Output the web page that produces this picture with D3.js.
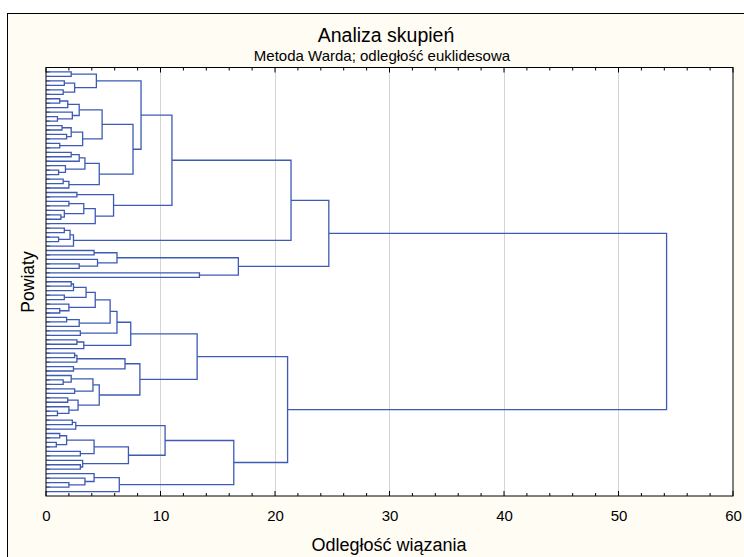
<!DOCTYPE html>
<html><head><meta charset="utf-8">
<script src="https://cdnjs.cloudflare.com/ajax/libs/d3/7.8.5/d3.min.js"></script>
<style>
html,body{margin:0;padding:0;background:#fff;}
svg{display:block;}
</style></head>
<body>
<svg id="chart" width="744" height="557"></svg>
<script>
// ---- Data (leaf ids "Ln"; internal node = [linkage distance, left, right]) ----
const titleText = "Analiza skupień";
const subtitleText = "Metoda Warda; odległość euklidesowa";
const xAxisTitle = "Odległość wiązania";
const yAxisTitle = "Powiaty";
const xTicks = [0, 10, 20, 30, 40, 50, 60];

const clusterA1a = [4.4, [2.2, "L1", "L2"], [2.5, [1.6, "L3", "L4"], [1.5, "L5", "L6"]]];
const clusterB1 = [4.9,
  [2.9, [1.9, [1.2, "L7", "L8"], "L9"], [2.3, "L10", [1.0, "L11", "L12"]]],
  [3.2, [2.2, [1.4, "L13", "L14"], [1.8, "L15", "L16"]], [1.2, "L17", "L18"]]];
const clusterC = [4.65,
  [3.4, [2.9, [2.2, "L19", "L20"], "L21"], [1.7, "L22", [1.1, "L23", "L24"]]],
  [2.0, [1.5, "L25", "L26"], "L27"]];
const clusterA2 = [5.9, [2.7, "L28", "L29"],
  [4.3, [3.3, [2.0, "L30", "L31"], [1.6, "L32", [1.3, "L33", "L34"]]], "L35"]];
const clusterD = [2.4, [2.1, [1.6, "L36", "L37"], [1.1, "L38", "L39"]], "L40"];
const clusterT2 = [16.8,
  [6.2, [4.2, "L41", "L42"], [4.5, "L43", [2.9, "L44", "L45"]]],
  [13.4, "L46", "L47"]];
const clusterE1 = [7.4,
  [6.2,
    [5.6,
      [4.3, [3.5, [2.4, [2.2, "L48", "L49"], "L50"], [1.6, "L51", "L52"]], [2.0, "L53", [1.2, "L54", "L55"]]],
      [2.9, [1.8, "L56", "L57"], "L58"]],
    [3.0, "L59", "L60"]],
  [3.3, [2.7, "L61", "L62"], "L63"]];
const clusterE2 = [8.2,
  [6.9, [2.7, [2.5, "L64", "L65"], "L66"], [2.4, "L67", "L68"]],
  [4.65,
    [4.1, [2.2, "L69", [1.5, "L70", "L71"]], [2.5, "L72", "L73"]],
    [2.8, [1.9, "L74", "L75"], [2.0, "L76", [1.0, "L77", "L78"]]]]];
const clusterG = [10.4,
  [2.6, [2.3, "L79", "L80"], "L81"],
  [7.2,
    [4.2, [1.8, [1.2, "L82", "L83"], [0.9, "L84", "L85"]], [3.0, "L86", "L87"]],
    [3.2, "L88", [3.0, "L89", "L90"]]]];
const clusterH = [6.4, [4.2, "L91", [3.4, "L92", [2.0, "L93", "L94"]]], "L95"];

// upper-level merge heights
const mergeB = 7.6, mergeA1 = 8.3, mergeA = 11.0, mergeT1 = 21.4, mergeTop = 24.7;
const mergeE = 13.2, mergeF = 16.4, mergeBottom = 21.1, mergeRoot = 54.2;

const treeData = [mergeRoot,
  [mergeTop,
    [mergeT1,
      [mergeA, [mergeA1, clusterA1a, [mergeB, clusterB1, clusterC]], clusterA2],
      clusterD],
    clusterT2],
  [mergeBottom,
    [mergeE, clusterE1, clusterE2],
    [mergeF, clusterG, clusterH]]];

// ---- Layout ----
const W = 744, H = 557;
const plot = {l: 46, r: 733, t: 67.5, b: 496};
const svg = d3.select("#chart");
const font = "'Liberation Sans', Arial, sans-serif";

svg.append("rect").attr("x", 0).attr("y", 0).attr("width", W).attr("height", H).attr("fill", "#ffffff");
svg.append("rect").attr("x", 7.5).attr("y", 13.5).attr("width", W + 10).attr("height", H + 10)
  .attr("fill", "#fffcf4").attr("stroke", "#000").attr("stroke-width", 1);

svg.append("rect").attr("x", plot.l).attr("y", plot.t).attr("width", plot.r - plot.l).attr("height", plot.b - plot.t)
  .attr("fill", "#ffffff");

const x = d3.scaleLinear().domain([0, 60]).range([plot.l, plot.r]);

// grid
svg.append("g").selectAll("line").data(xTicks.filter(v => v > 0 && v < 60)).join("line")
  .attr("x1", d => x(d)).attr("x2", d => x(d)).attr("y1", plot.t).attr("y2", plot.b)
  .attr("stroke", "#d4d4d4").attr("stroke-width", 1).attr("shape-rendering", "crispEdges");

// hierarchy
const root = d3.hierarchy(treeData, d => Array.isArray(d) ? [d[1], d[2]] : null);
const leaves = root.leaves();
const yLeaf = d3.scalePoint().domain(leaves.map(d => d.data)).range([plot.t, plot.b]).padding(1);
root.eachAfter(n => {
  if (n.children) {
    n.hy = d3.mean(n.children, c => c.hy);
    n.hx = x(n.data[0]);
  } else {
    n.hy = yLeaf(n.data);
    n.hx = x(0);
  }
});

// left ticks for leaves
svg.append("g").selectAll("line").data(leaves).join("line")
  .attr("x1", plot.l).attr("x2", plot.l + 4).attr("y1", d => d.hy).attr("y2", d => d.hy)
  .attr("stroke", "#333").attr("stroke-width", 1);

// links
const linkPath = n => {
  const [a, b] = n.children;
  return `M${a.hx},${a.hy}H${n.hx}V${b.hy}H${b.hx}`;
};
svg.append("g").selectAll("path").data(root.descendants().filter(n => n.children)).join("path")
  .attr("d", linkPath).attr("fill", "none").attr("stroke", "#3d5ab4").attr("stroke-width", 1.3);

// plot frame
svg.append("rect").attr("x", plot.l).attr("y", plot.t).attr("width", plot.r - plot.l).attr("height", plot.b - plot.t)
  .attr("fill", "none").attr("stroke", "#000").attr("stroke-width", 1);

// axis ticks (inward), major and minor, top and bottom
const minor = d3.range(0, 61, 2).filter(v => v % 10 !== 0);
const tg = svg.append("g").attr("stroke", "#000").attr("stroke-width", 1);
xTicks.forEach(v => {
  tg.append("line").attr("x1", x(v)).attr("x2", x(v)).attr("y1", plot.b).attr("y2", plot.b - 5);
  tg.append("line").attr("x1", x(v)).attr("x2", x(v)).attr("y1", plot.t).attr("y2", plot.t + 5);
});
minor.forEach(v => {
  tg.append("line").attr("x1", x(v)).attr("x2", x(v)).attr("y1", plot.b).attr("y2", plot.b - 3);
  tg.append("line").attr("x1", x(v)).attr("x2", x(v)).attr("y1", plot.t).attr("y2", plot.t + 3);
});

// bottom axis labels via d3 axis (no lines)
const ax = svg.append("g").attr("transform", `translate(0,${plot.b})`)
  .call(d3.axisBottom(x).tickValues(xTicks).tickSize(0).tickPadding(14).tickFormat(d3.format("d")));
ax.select(".domain").remove();
ax.selectAll("text").attr("font-family", font).attr("font-size", 15).attr("fill", "#000");

// texts
svg.append("text").attr("x", 386).attr("y", 42).attr("text-anchor", "middle")
  .attr("font-family", font).attr("font-size", 19.5).text(titleText);
svg.append("text").attr("x", 382).attr("y", 61).attr("text-anchor", "middle")
  .attr("font-family", font).attr("font-size", 15).text(subtitleText);
svg.append("text").attr("x", 389).attr("y", 551).attr("text-anchor", "middle")
  .attr("font-family", font).attr("font-size", 18).text(xAxisTitle);
svg.append("text").attr("transform", "translate(34,282) rotate(-90)").attr("text-anchor", "middle")
  .attr("font-family", font).attr("font-size", 17.5).text(yAxisTitle);
</script>
</body></html>
